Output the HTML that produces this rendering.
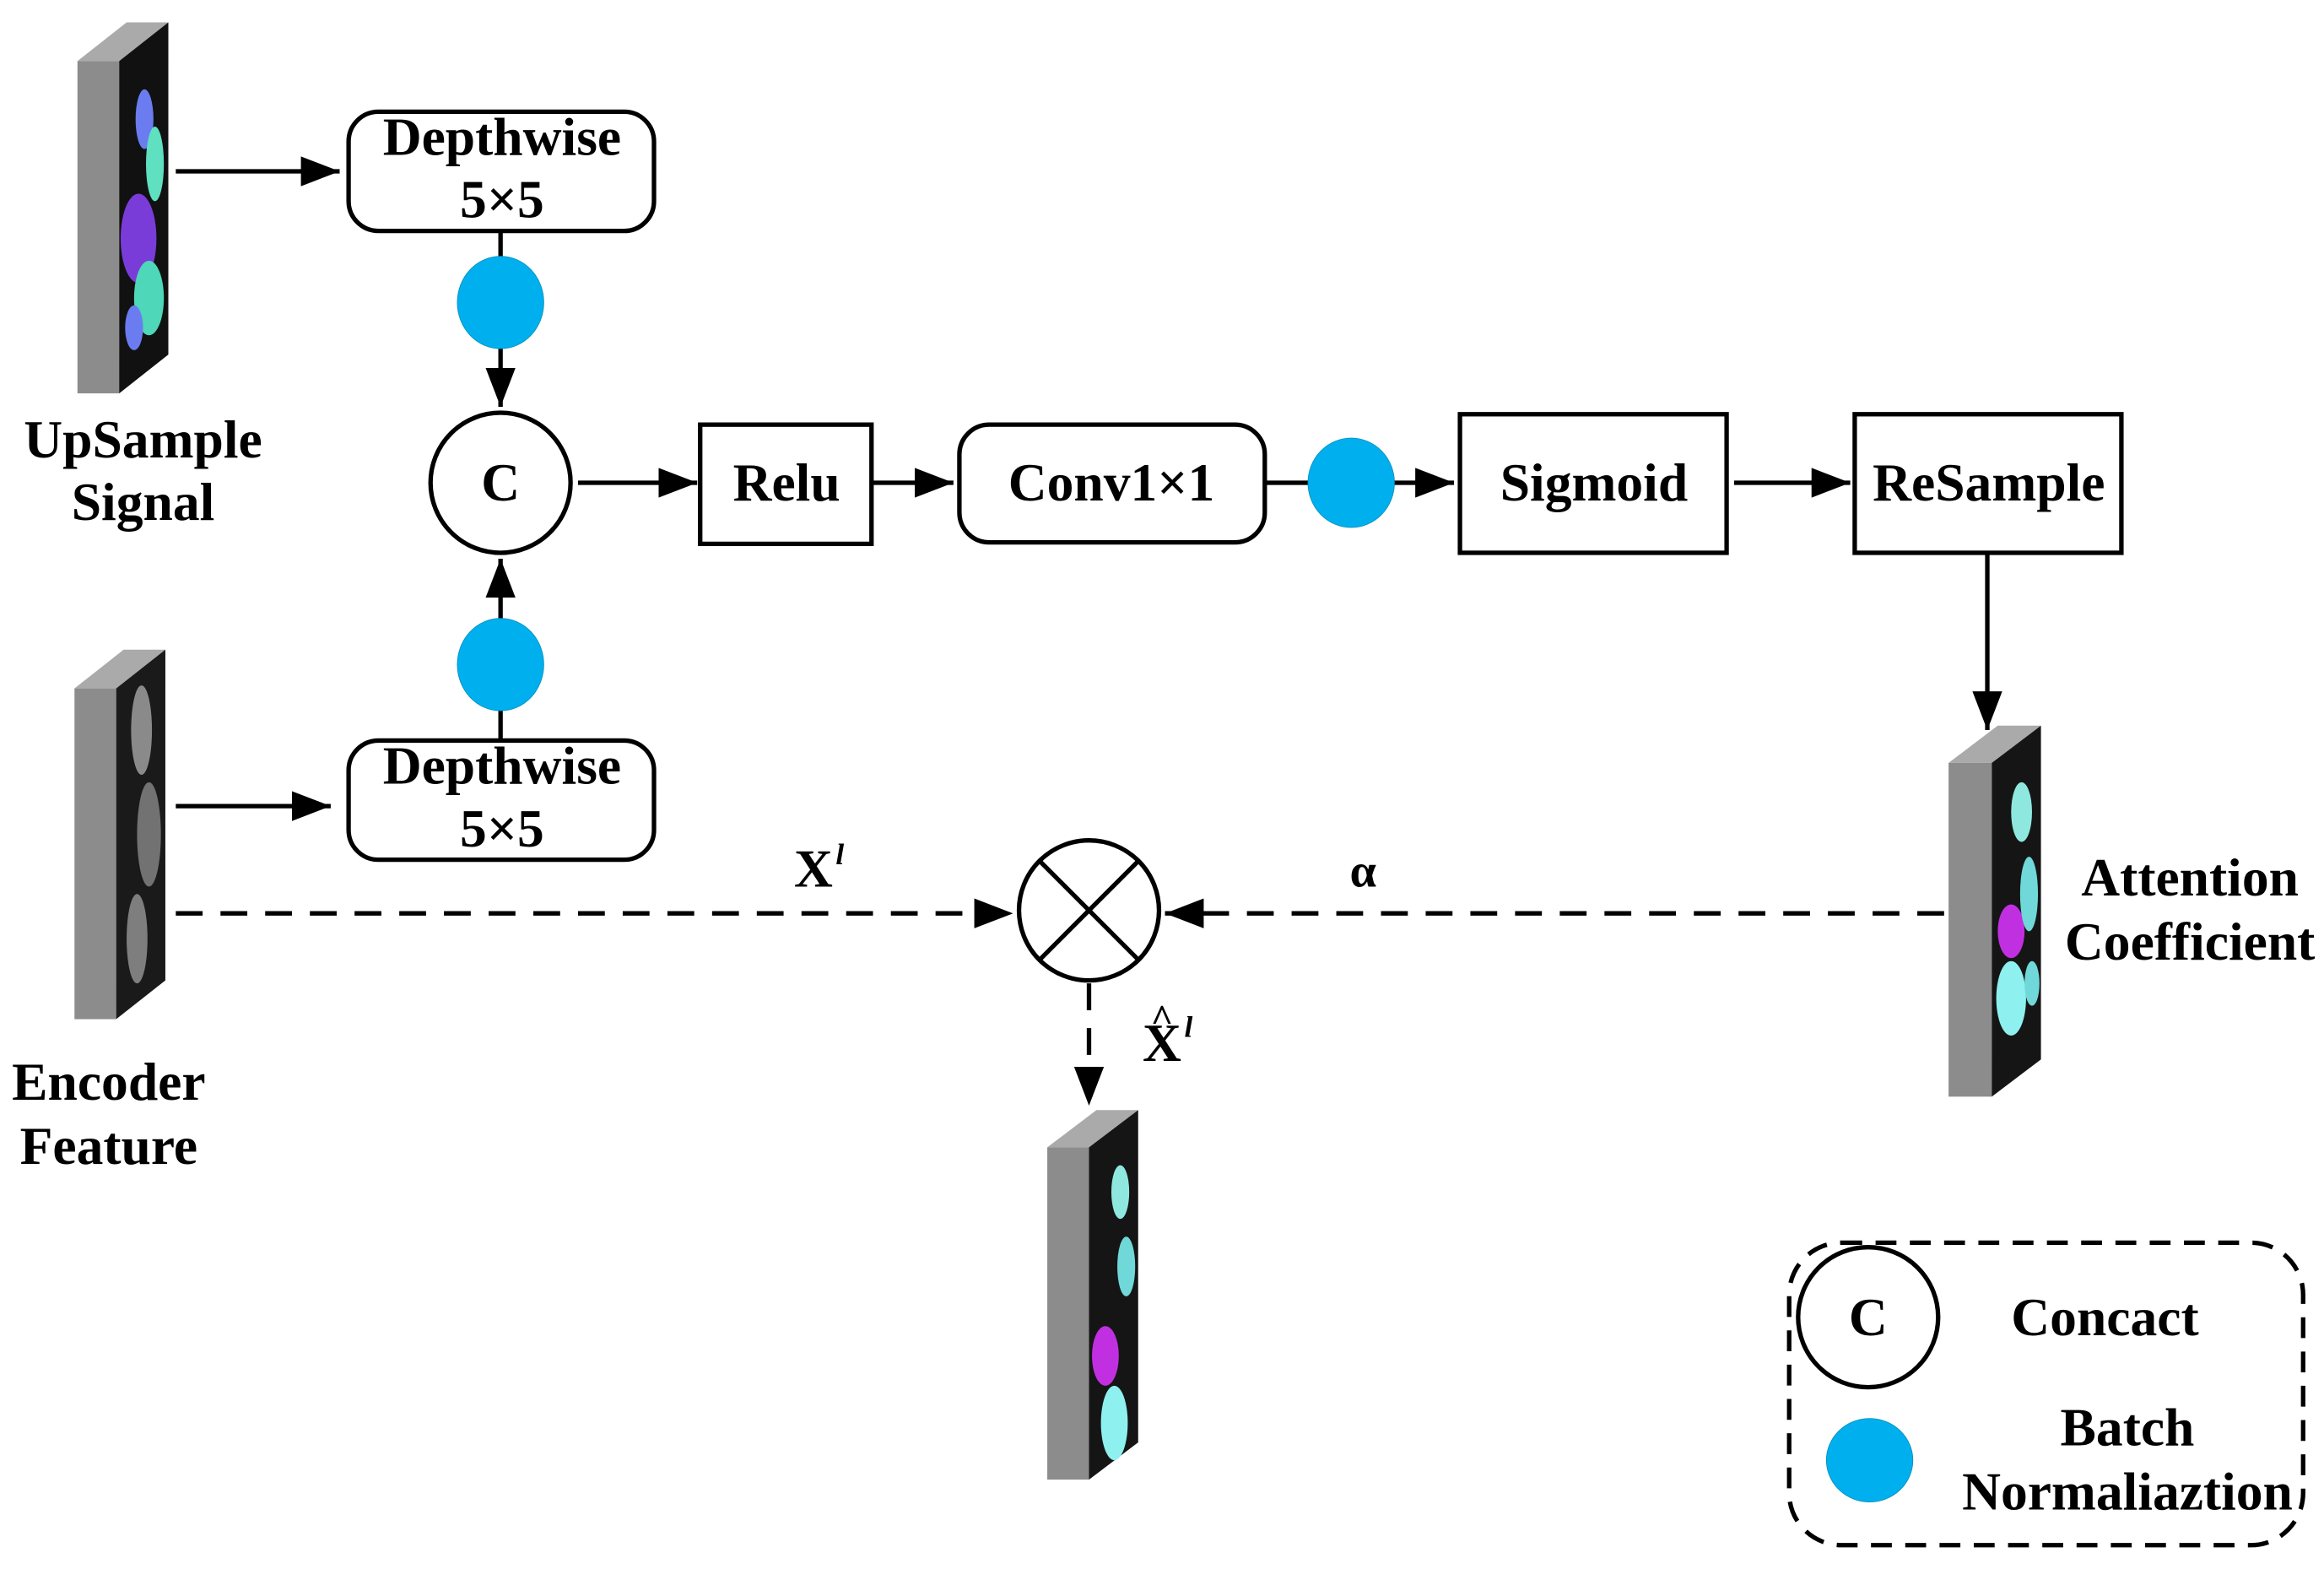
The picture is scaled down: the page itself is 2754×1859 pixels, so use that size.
<!DOCTYPE html>
<html><head><meta charset="utf-8"><style>
html,body{margin:0;padding:0;background:#fff}
svg{display:block}
text{font-family:"Liberation Serif",serif;font-weight:bold;fill:#000}
</style></head><body>
<svg width="2754" height="1859" viewBox="0 0 1560 1053" preserveAspectRatio="none" xmlns="http://www.w3.org/2000/svg">
<defs>
<marker id="a2" viewBox="0 0 10 10" refX="10" refY="5" markerWidth="26" markerHeight="20" markerUnits="userSpaceOnUse" orient="auto" preserveAspectRatio="none"><path d="M0,0 L10,5 L0,10 z" fill="#000"/></marker>
</defs>
<!-- UpSample slab -->
<g>
<polygon points="52,41 80,41 113,15 85,15" fill="#aaa"/>
<rect x="52" y="41" width="28" height="223" fill="#8c8c8c"/>
<polygon points="80,41 113,15 113,238 80,264" fill="#111"/>
<ellipse cx="97" cy="80" rx="6" ry="20" fill="#6a7cf0"/>
<ellipse cx="104" cy="110" rx="6" ry="25" fill="#5fe0c0"/>
<ellipse cx="93" cy="160" rx="12" ry="30" fill="#7a3cd8"/>
<ellipse cx="100" cy="200" rx="10" ry="25" fill="#4ed7b8"/>
<ellipse cx="90" cy="220" rx="6" ry="15" fill="#6a7cf0"/>
</g>
<!-- Encoder slab -->
<g>
<polygon points="50,462 78,462 111,436 83,436" fill="#aaa"/>
<rect x="50" y="462" width="28" height="222" fill="#8c8c8c"/>
<polygon points="78,462 111,436 111,658 78,684" fill="#1a1a1a"/>
<ellipse cx="95" cy="490" rx="7" ry="30" fill="#bbb" opacity="0.7"/>
<ellipse cx="100" cy="560" rx="8" ry="35" fill="#999" opacity="0.7"/>
<ellipse cx="92" cy="630" rx="7" ry="30" fill="#aaa" opacity="0.7"/>
</g>
<!-- Attention slab -->
<g>
<polygon points="1308,512 1337,512 1370,487 1341,487" fill="#aaa"/>
<rect x="1308" y="512" width="29" height="224" fill="#8c8c8c"/>
<polygon points="1337,512 1370,487 1370,711 1337,736" fill="#151515"/>
<ellipse cx="1357" cy="545" rx="7" ry="20" fill="#8fe8e0"/>
<ellipse cx="1350" cy="625" rx="9" ry="18" fill="#c030e0"/>
<ellipse cx="1362" cy="600" rx="6" ry="25" fill="#70d8d8"/>
<ellipse cx="1350" cy="670" rx="10" ry="25" fill="#8ff0f0"/>
<ellipse cx="1364" cy="660" rx="5" ry="15" fill="#70d8d8"/>
</g>
<!-- Output slab -->
<g>
<polygon points="703,770 731,770 764,745 736,745" fill="#aaa"/>
<rect x="703" y="770" width="28" height="223" fill="#8c8c8c"/>
<polygon points="731,770 764,745 764,968 731,993" fill="#151515"/>
<ellipse cx="752" cy="800" rx="6" ry="18" fill="#8fe8e0"/>
<ellipse cx="756" cy="850" rx="6" ry="20" fill="#70d8d8"/>
<ellipse cx="742" cy="910" rx="9" ry="20" fill="#c030e0"/>
<ellipse cx="748" cy="955" rx="9" ry="25" fill="#8ff0f0"/>
</g>

<g stroke="#000" stroke-width="3" fill="#fff">
<rect x="234" y="75" width="205" height="80" rx="20"/>
<rect x="234" y="497" width="205" height="80" rx="20"/>
<rect x="470" y="285" width="115" height="80"/>
<rect x="644" y="285" width="205" height="79" rx="20"/>
<rect x="980" y="278" width="179" height="93"/>
<rect x="1245" y="278" width="179" height="93"/>
<ellipse cx="336" cy="324" rx="47" ry="47"/>
<circle cx="731" cy="611" r="47"/>
<line x1="698" y1="578" x2="764" y2="644"/>
<line x1="764" y1="578" x2="698" y2="644"/>
<rect x="1201" y="834" width="345" height="203" rx="35" stroke-dasharray="14,9" fill="none"/>
<circle cx="1254" cy="884" r="47"/>
</g>

<g stroke="#000" stroke-width="3" fill="none">
<line x1="118" y1="115" x2="228" y2="115" marker-end="url(#a2)"/>
<line x1="118" y1="541" x2="222" y2="541" marker-end="url(#a2)"/>
<line x1="336" y1="155" x2="336" y2="175"/>
<line x1="336" y1="232" x2="336" y2="273" marker-end="url(#a2)"/>
<line x1="336" y1="420" x2="336" y2="375" marker-end="url(#a2)"/>
<line x1="336" y1="475" x2="336" y2="497"/>
<line x1="388" y1="324" x2="468" y2="324" marker-end="url(#a2)"/>
<line x1="586" y1="324" x2="640" y2="324" marker-end="url(#a2)"/>
<line x1="849" y1="324" x2="880" y2="324"/>
<line x1="934" y1="324" x2="976" y2="324" marker-end="url(#a2)"/>
<line x1="1164" y1="324" x2="1242" y2="324" marker-end="url(#a2)"/>
<line x1="1334" y1="371" x2="1334" y2="490" marker-end="url(#a2)"/>
<line x1="118" y1="613" x2="680" y2="613" stroke-dasharray="18,12" marker-end="url(#a2)"/>
<line x1="1305" y1="613" x2="782" y2="613" stroke-dasharray="18,12" marker-end="url(#a2)"/>
<line x1="731" y1="660" x2="731" y2="742" stroke-dasharray="18,12" marker-end="url(#a2)"/>
</g>

<g fill="#00b0ee" stroke="#0090c0" stroke-width="0.5">
<ellipse cx="336" cy="203" rx="29" ry="31"/>
<ellipse cx="336" cy="446" rx="29" ry="31"/>
<ellipse cx="907" cy="324" rx="29" ry="30"/>
<ellipse cx="1255" cy="980" rx="29" ry="28"/>
</g>

<g font-size="36" text-anchor="middle">
<text x="337" y="104">Depthwise</text>
<text x="337" y="146">5×5</text>
<text x="337" y="526">Depthwise</text>
<text x="337" y="568">5×5</text>
<text x="336" y="336">C</text>
<text x="528" y="336">Relu</text>
<text x="746" y="336">Conv1×1</text>
<text x="1070" y="336">Sigmoid</text>
<text x="1335" y="336">ReSample</text>
<text x="96" y="307">UpSample</text>
<text x="96" y="349">Signal</text>
<text x="73" y="738">Encoder</text>
<text x="73" y="781">Feature</text>
<text x="1470" y="601">Attention</text>
<text x="1470" y="644">Coefficient</text>
<text x="1254" y="896">C</text>
<text x="1413" y="896">Concact</text>
<text x="1428" y="970">Batch</text>
<text x="1428" y="1013">Normaliaztion</text>
<text x="546" y="595">X</text>
<text x="915" y="595" font-weight="normal" font-family="Liberation Sans, sans-serif" font-size="32">α</text>
<text x="780" y="712">X</text>
<text x="780" y="692" font-size="26">^</text>
</g>
<text x="561" y="580" font-size="20" font-style="italic">l</text>
<text x="795" y="696" font-size="20" font-style="italic">l</text>
</svg>
</body></html>
